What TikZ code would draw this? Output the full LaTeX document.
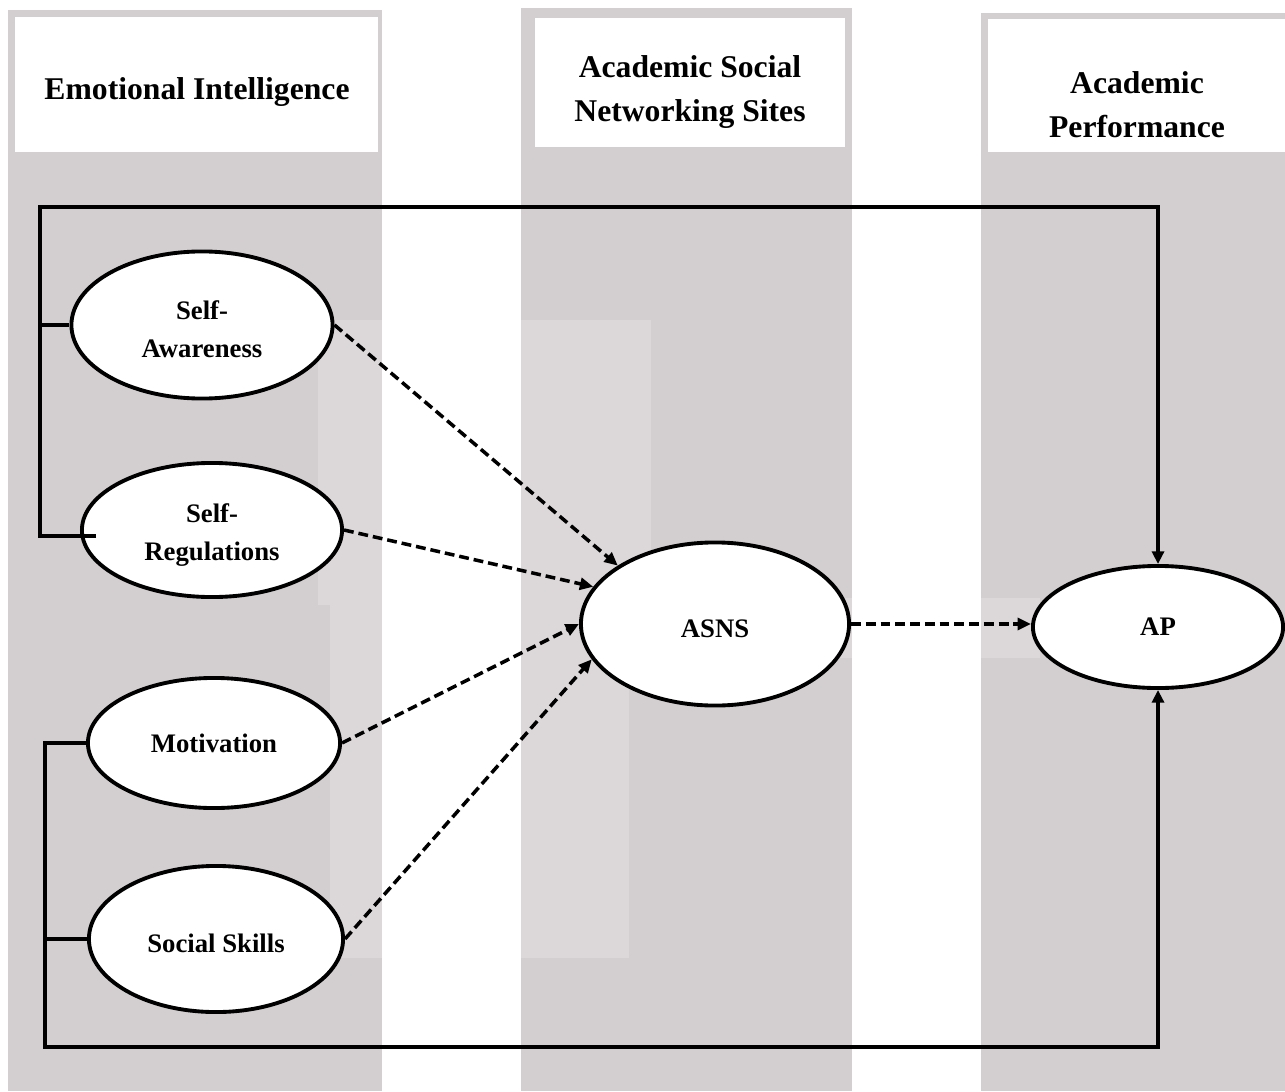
\documentclass[tikz,border=0pt]{standalone}
\usepackage{fontspec}
\setmainfont{Liberation Serif}
\usetikzlibrary{shapes.geometric,arrows.meta}
\definecolor{colgray}{HTML}{D3CFD0}
\definecolor{boxgray}{HTML}{DCD8D9}
\newcommand{\lift}{\rule{0pt}{8pt}}

\begin{document}
\begin{tikzpicture}[x=0.01cm,y=-0.01cm,
    construct/.style={draw, ellipse, line width=1.1pt, fill=white, inner sep=0pt, align=center, font=\fontsize{7.6}{10.8}\selectfont\bfseries},
    heading/.style={align=center, font=\fontsize{9}{12.5}\selectfont\bfseries},
    effect/.style={dash pattern=on 2.8pt off 1.4pt, line width=1pt, -{Triangle[length=3.8pt,width=3.4pt]}},
    bracket/.style={line width=0.95pt}]
    \useasboundingbox (0,0) rectangle (1285,1091);
    % columns
    \fill[colgray] (8,10) rectangle (382,1091);
    \fill[colgray] (521,8) rectangle (852,1091);
    \fill[colgray] (981,13) rectangle (1285,1091);
    \fill[boxgray] (318,320) rectangle (382,605);
    \fill[boxgray] (521,320) rectangle (651,605);
    \fill[boxgray] (330,605) rectangle (382,958);
    \fill[boxgray] (521,605) rectangle (629,958);
    \fill[boxgray] (651,598) rectangle (852,658);
    \fill[boxgray] (981,598) rectangle (1040,658);
    % headers
    \fill[white] (15,17) rectangle (378,152);
    \fill[white] (535,18) rectangle (845,147);
    \fill[white] (988,19) rectangle (1285,152);
    \node[heading] (eihead) at (197,92) {Emotional Intelligence};
    \node[heading] (asnshead) at (690,92) {Academic Social\\Networking Sites};
    \node[heading] (aphead) at (1137,105) {Academic\\Performance};
    % constructs
    \node[construct, minimum width=2.61cm, minimum height=1.47cm] (sa) at (202,325) {\lift Self-\\Awareness};
    \node[construct, minimum width=2.60cm, minimum height=1.34cm] (sr) at (212,530) {\lift Self-\\Regulations};
    \node[construct, minimum width=2.52cm, minimum height=1.30cm] (mot) at (214,743) {Motivation};
    \node[construct, minimum width=2.54cm, minimum height=1.46cm] (ss) at (216,939) {\lift Social Skills};
    \node[construct, minimum width=2.68cm, minimum height=1.63cm] (asns) at (715,624) {\lift ASNS};
    \node[construct, minimum width=2.50cm, minimum height=1.22cm] (ap) at (1158,627) {AP};
    % direct links
    \coordinate (topleft) at (40,207);
    \coordinate (srtick) at (96,536);
    \coordinate (botleft) at (45,1047);
    \draw[bracket, -{Triangle[length=3.6pt,width=3.4pt]}] (srtick) -- (srtick -| topleft) -- (topleft) -| (ap.north);
    \draw[bracket] (sa.west) -- (sa.west -| topleft);
    \draw[bracket, -{Triangle[length=3.6pt,width=3.4pt]}] (mot.west) -- (mot.west -| botleft) -- (botleft) -| (ap.south);
    \draw[bracket] (ss.west) -- (ss.west -| botleft);
    % mediated paths
    \draw[effect] (sa.east) -- (asns.149);
    \draw[effect] (sr.east) -- (asns.163);
    \draw[effect] (mot.east) -- (asns.west);
    \draw[effect] (ss.east) -- (asns.196);
    \draw[effect] (asns.east) -- (ap.west |- asns.east);
\end{tikzpicture}
\end{document}
